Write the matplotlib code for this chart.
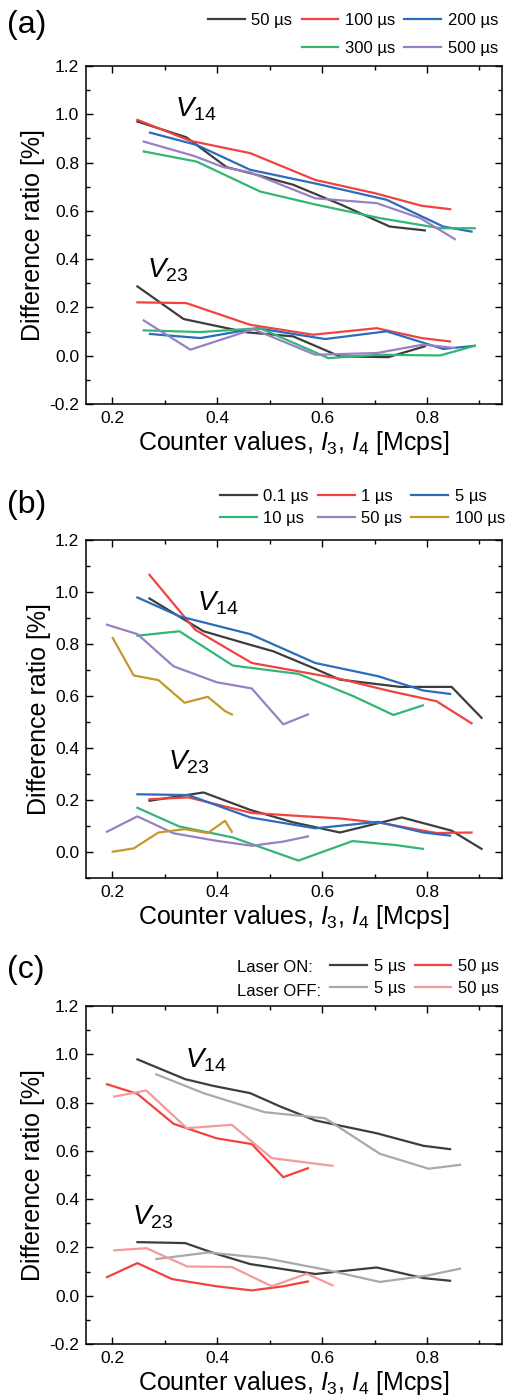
import numpy as np
import matplotlib
matplotlib.use("Agg")
import matplotlib.pyplot as plt
from matplotlib.lines import Line2D
from matplotlib.ticker import MultipleLocator

plt.rcParams['font.family'] = ['Liberation Sans', 'DejaVu Sans']
plt.rcParams['mathtext.fontset'] = 'custom'
plt.rcParams['mathtext.rm'] = 'Liberation Sans'
plt.rcParams['mathtext.it'] = 'Liberation Sans:italic'

# ---- panel (a): dead time 50..500 us ----
a_labels = ["50 µs", "100 µs", "200 µs", "300 µs", "500 µs"]
a_colors = ["#3d3d3d", "#f04341", "#2b6cbc", "#33b575", "#9880c3"]
a14_x = [[0.248, 0.341, 0.418, 0.469, 0.545, 0.637, 0.729, 0.796],
         [0.248, 0.349, 0.463, 0.587, 0.701, 0.790, 0.844],
         [0.272, 0.361, 0.463, 0.590, 0.723, 0.831, 0.885],
         [0.260, 0.361, 0.482, 0.590, 0.710, 0.825, 0.891],
         [0.260, 0.355, 0.412, 0.463, 0.587, 0.704, 0.787, 0.853]]
a14_y = [[0.970, 0.905, 0.781, 0.753, 0.708, 0.625, 0.535, 0.519],
         [0.977, 0.890, 0.839, 0.728, 0.673, 0.621, 0.607],
         [0.924, 0.873, 0.770, 0.712, 0.646, 0.535, 0.514],
         [0.846, 0.804, 0.680, 0.625, 0.570, 0.528, 0.528],
         [0.887, 0.828, 0.781, 0.759, 0.652, 0.632, 0.570, 0.483]]
a23_x = [[0.248, 0.336, 0.456, 0.545, 0.634, 0.726, 0.796],
         [0.248, 0.341, 0.463, 0.583, 0.704, 0.790, 0.844],
         [0.272, 0.368, 0.476, 0.606, 0.723, 0.831, 0.891],
         [0.260, 0.368, 0.482, 0.612, 0.710, 0.825, 0.891],
         [0.260, 0.349, 0.469, 0.587, 0.704, 0.793, 0.853]]
a23_y = [[0.287, 0.152, 0.097, 0.080, -0.003, -0.006, 0.039],
         [0.221, 0.218, 0.128, 0.087, 0.114, 0.073, 0.059],
         [0.090, 0.073, 0.114, 0.069, 0.101, 0.028, 0.041],
         [0.105, 0.098, 0.114, -0.010, 0.004, 0.001, 0.041],
         [0.146, 0.025, 0.110, 0.004, 0.011, 0.046, 0.032]]

# ---- panel (b): dead time 0.1..100 us ----
b_labels = ["0.1 µs", "1 µs", "5 µs", "10 µs", "50 µs", "100 µs"]
b_colors = ["#3d3d3d", "#f04341", "#2b6cbc", "#33b575", "#9880c3", "#c9962c"]
b14_x = [[0.271, 0.374, 0.463, 0.507, 0.583, 0.634, 0.749, 0.847, 0.904],
         [0.271, 0.358, 0.466, 0.634, 0.729, 0.818, 0.885],
         [0.248, 0.329, 0.463, 0.587, 0.707, 0.793, 0.844],
         [0.248, 0.328, 0.430, 0.555, 0.660, 0.736, 0.792],
         [0.190, 0.248, 0.317, 0.399, 0.466, 0.526, 0.573],
         [0.201, 0.241, 0.288, 0.338, 0.382, 0.415, 0.428]]
b14_y = [[0.975, 0.849, 0.797, 0.772, 0.708, 0.663, 0.635, 0.635, 0.516],
         [1.066, 0.855, 0.727, 0.666, 0.619, 0.580, 0.495],
         [0.979, 0.906, 0.838, 0.727, 0.676, 0.621, 0.608],
         [0.832, 0.849, 0.717, 0.685, 0.599, 0.527, 0.564],
         [0.874, 0.838, 0.714, 0.653, 0.629, 0.491, 0.529],
         [0.823, 0.679, 0.661, 0.574, 0.597, 0.542, 0.529]]
b23_x = [[0.271, 0.374, 0.463, 0.545, 0.634, 0.752, 0.847, 0.904],
         [0.271, 0.345, 0.466, 0.634, 0.714, 0.818, 0.885],
         [0.248, 0.345, 0.463, 0.587, 0.707, 0.793, 0.844],
         [0.248, 0.328, 0.430, 0.555, 0.658, 0.739, 0.792],
         [0.190, 0.248, 0.317, 0.399, 0.466, 0.526, 0.573],
         [0.201, 0.241, 0.288, 0.338, 0.382, 0.415, 0.428]]
b23_y = [[0.197, 0.229, 0.162, 0.114, 0.075, 0.133, 0.082, 0.012],
         [0.203, 0.210, 0.150, 0.129, 0.111, 0.073, 0.075],
         [0.222, 0.219, 0.133, 0.091, 0.116, 0.075, 0.063],
         [0.170, 0.098, 0.056, -0.033, 0.042, 0.027, 0.012],
         [0.078, 0.137, 0.072, 0.043, 0.024, 0.040, 0.060],
         [0.001, 0.014, 0.075, 0.088, 0.073, 0.120, 0.078]]

# ---- panel (c): laser on / off ----
c_labels = ["5 µs", "5 µs", "50 µs", "50 µs"]  # ON5, OFF5, ON50, OFF50
c_colors = ["#3d3d3d", "#a9a9a9", "#f04341", "#f59a9a"]
c14_x = [[0.248, 0.339, 0.393, 0.463, 0.520, 0.587, 0.704, 0.793, 0.844],
         [0.284, 0.374, 0.491, 0.606, 0.710, 0.803, 0.863],
         [0.190, 0.248, 0.317, 0.399, 0.466, 0.526, 0.573],
         [0.204, 0.265, 0.342, 0.428, 0.504, 0.620]]
c14_y = [[0.979, 0.897, 0.869, 0.839, 0.784, 0.726, 0.673, 0.621, 0.607],
         [0.917, 0.839, 0.760, 0.735, 0.588, 0.526, 0.542],
         [0.876, 0.836, 0.712, 0.652, 0.628, 0.491, 0.528],
         [0.825, 0.850, 0.694, 0.708, 0.570, 0.538]]
c23_x = [[0.248, 0.339, 0.393, 0.463, 0.587, 0.704, 0.793, 0.844],
         [0.284, 0.383, 0.491, 0.606, 0.710, 0.799, 0.863],
         [0.190, 0.248, 0.314, 0.399, 0.466, 0.526, 0.573],
         [0.204, 0.265, 0.343, 0.428, 0.504, 0.571, 0.620]]
c23_y = [[0.222, 0.218, 0.177, 0.131, 0.090, 0.117, 0.073, 0.062],
         [0.152, 0.179, 0.156, 0.108, 0.057, 0.083, 0.112],
         [0.077, 0.135, 0.069, 0.039, 0.022, 0.039, 0.059],
         [0.188, 0.197, 0.121, 0.119, 0.039, 0.091, 0.043]]

W, H = 507, 1398
fig = plt.figure(figsize=(W / 100, H / 100), dpi=100)


def px_ax(top, bottom):
    return fig.add_axes([86 / W, 1 - bottom / H, (502 - 86) / W, (bottom - top) / H])


def style(ax, ymin):
    ax.set_xlim(0.15, 0.943)
    ax.set_ylim(ymin, 1.2)
    ax.xaxis.set_major_locator(MultipleLocator(0.2))
    ax.xaxis.set_minor_locator(MultipleLocator(0.1))
    ax.yaxis.set_major_locator(MultipleLocator(0.2))
    ax.yaxis.set_minor_locator(MultipleLocator(0.1))
    ax.tick_params(which='both', direction='in', top=True, right=True, labelsize=12.5, width=1)
    ax.tick_params(which='major', length=5, pad=5)
    ax.tick_params(which='minor', length=3)
    ax.yaxis.set_major_formatter(matplotlib.ticker.FormatStrFormatter('%.1f'))
    ax.xaxis.set_major_formatter(matplotlib.ticker.FormatStrFormatter('%.1f'))
    for s in ax.spines.values():
        s.set_linewidth(1.1)
    ax.set_xlabel(r"Counter values, $\mathit{I}_3$, $\mathit{I}_4$ [Mcps]", fontsize=18, labelpad=2)
    ax.set_ylabel("Difference ratio [%]", fontsize=18, labelpad=3)


def vlabels(ax, p14, p23):
    ax.text(p14[0], p14[1], r"$\mathit{V}_{\mathit{14}}$", fontsize=20, va='baseline')
    ax.text(p23[0], p23[1], r"$\mathit{V}_{\mathit{23}}$", fontsize=20, va='baseline')


leg_kw = dict(frameon=False, fontsize=12, handlelength=2.2, handletextpad=0.4,
              columnspacing=0.55, borderpad=0, borderaxespad=0,
              bbox_transform=fig.transFigure, loc='upper right')

# (a)
ax = px_ax(66, 404)
hs = []
for x, y, c, l in zip(a14_x, a14_y, a_colors, a_labels):
    hs += ax.plot(x, y, color=c, lw=1.6, label=l)
for x, y, c in zip(a23_x, a23_y, a_colors):
    ax.plot(x, y, color=c, lw=1.6)
style(ax, -0.2)
vlabels(ax, (0.32, 0.99), (0.267, 0.326))
blank = Line2D([], [], color='none')
ax.legend([hs[0], blank, hs[1], hs[3], hs[2], hs[4]],
          [a_labels[0], "", a_labels[1], a_labels[3], a_labels[2], a_labels[4]],
          ncol=3, labelspacing=0.75, bbox_to_anchor=(498 / W, 1 - 13 / H), **leg_kw)
fig.text(7 / W, 1 - 25 / H, "(a)", fontsize=23, va='center')

# (b)
ax = px_ax(540, 878)
hs = []
for x, y, c, l in zip(b14_x, b14_y, b_colors, b_labels):
    hs += ax.plot(x, y, color=c, lw=1.6, label=l)
for x, y, c in zip(b23_x, b23_y, b_colors):
    ax.plot(x, y, color=c, lw=1.6)
style(ax, -0.1)
vlabels(ax, (0.362, 0.928), (0.307, 0.316))
order = [0, 3, 1, 4, 2, 5]
ax.legend([hs[i] for i in order], [b_labels[i] for i in order],
          ncol=3, labelspacing=0.4, bbox_to_anchor=(505 / W, 1 - 489 / H), **leg_kw)
fig.text(7 / W, 1 - 505 / H, "(b)", fontsize=23, va='center')

# (c)
ax = px_ax(1006, 1344)
hs = []
for x, y, c, l in zip(c14_x, c14_y, c_colors, c_labels):
    hs += ax.plot(x, y, color=c, lw=1.6, label=l)
for x, y, c in zip(c23_x, c23_y, c_colors):
    ax.plot(x, y, color=c, lw=1.6)
style(ax, -0.2)
vlabels(ax, (0.339, 0.946), (0.2375, 0.297))
ax.legend(hs, c_labels, ncol=2, labelspacing=0.4,
          bbox_to_anchor=(499 / W, 1 - 959 / H), **leg_kw)
fig.text(237 / W, 1 - 968 / H, "Laser ON:", fontsize=12, va='center')
fig.text(237 / W, 1 - 991 / H, "Laser OFF:", fontsize=12, va='center')
fig.text(7 / W, 1 - 970 / H, "(c)", fontsize=23, va='center')

fig.savefig("out.png", dpi=100)
